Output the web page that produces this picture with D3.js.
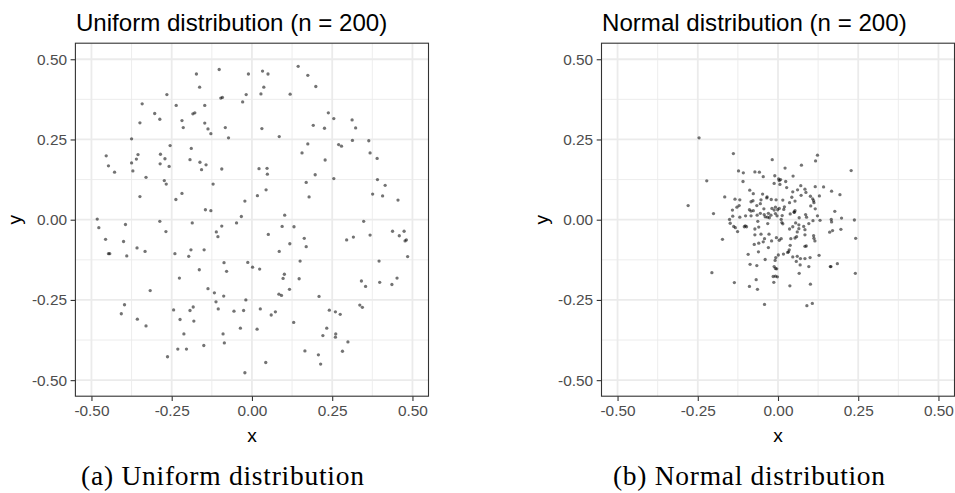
<!DOCTYPE html>
<html>
<head>
<meta charset="utf-8">
<script src="https://cdn.jsdelivr.net/npm/d3@7/dist/d3.min.js"></script>
<style>
  html, body { margin: 0; padding: 0; background: #fff; }
  svg { display: block; }
</style>
</head>
<body>
<svg id="chart" width="955" height="493"></svg>
<script>
// ---------------- data ----------------
const panelTitles = ["Uniform distribution (n = 200)", "Normal distribution (n = 200)"];
const captions = ["(a) Uniform distribution", "(b) Normal distribution"];
const tickValues = [-0.5, -0.25, 0, 0.25, 0.5];
const tickLabels = ["-0.50", "-0.25", "0.00", "0.25", "0.50"];
const minorValues = [-0.375, -0.125, 0.125, 0.375];

const uniformX = [
 -0.173,-0.102,-0.011,-0.163,-0.265,-0.097,-0.092,-0.018,-0.029,-0.342,-0.236,-0.147,-0.303,-0.184,-0.178,-0.287,-0.349,-0.218,-0.147,-0.214,-0.137,-0.083,-0.128,-0.375,-0.073,-0.255,-0.189,-0.454,-0.355,-0.285,-0.447,-0.360,-0.271,-0.375,-0.286,-0.193,-0.162,-0.143,-0.428,-0.371,-0.258,-0.157,-0.094,-0.330,-0.273,-0.267,-0.121,-0.349,-0.218,-0.237,-0.022,-0.145,-0.128,-0.033,-0.482,
 0.033,0.050,0.144,0.174,0.037,0.199,0.028,0.119,0.238,0.255,0.312,0.031,0.191,0.226,0.323,0.085,0.174,0.270,0.279,0.313,0.364,0.156,0.368,0.390,0.228,0.022,0.047,0.048,0.197,0.255,0.391,0.169,0.415,0.044,0.017,0.178,0.376,0.407,0.455,0.102,
 -0.477,-0.394,-0.287,-0.456,-0.400,-0.268,-0.186,-0.094,-0.111,-0.106,-0.048,-0.447,-0.443,-0.390,-0.358,-0.333,-0.240,-0.197,-0.190,-0.149,-0.164,-0.087,-0.079,-0.013,-0.226,-0.317,-0.137,-0.117,-0.088,-0.112,-0.397,-0.019,-0.407,-0.357,-0.330,-0.244,-0.224,-0.193,-0.183,-0.181,-0.105,-0.056,-0.026,-0.036,-0.212,-0.090,-0.150,-0.086,-0.231,-0.204,-0.263,-0.022,
 0.348,0.094,0.131,0.051,0.118,0.163,0.169,0.085,0.295,0.316,0.368,0.438,0.459,0.474,0.477,0.481,0.485,0.396,0.150,0.002,0.024,0.101,0.097,0.147,0.117,0.084,0.092,0.209,0.341,0.354,0.398,0.436,0.452,0.336,0.344,0.241,0.260,0.275,0.026,0.060,0.073,0.130,0.233,0.221,0.261,0.260,0.299,0.165,0.207,0.282,0.214,0.043,0.016
];
const uniformY = [
 0.454,0.468,0.454,0.413,0.390,0.379,0.381,0.390,0.367,0.361,0.356,0.356,0.331,0.330,0.333,0.313,0.302,0.309,0.301,0.287,0.283,0.287,0.268,0.252,0.255,0.231,0.222,0.199,0.203,0.204,0.168,0.189,0.190,0.177,0.174,0.187,0.179,0.171,0.148,0.152,0.166,0.156,0.158,0.132,0.122,0.111,0.111,0.072,0.082,0.063,0.058,0.031,0.028,0.010,0.002,
 0.463,0.454,0.478,0.450,0.413,0.415,0.392,0.391,0.333,0.315,0.311,0.284,0.294,0.285,0.286,0.259,0.236,0.234,0.229,0.247,0.246,0.208,0.208,0.191,0.186,0.159,0.160,0.142,0.140,0.128,0.125,0.116,0.107,0.093,0.075,0.071,0.080,0.074,0.061,0.014,
 -0.025,-0.015,-0.005,-0.061,-0.068,-0.037,-0.010,-0.020,-0.038,-0.053,-0.010,-0.106,-0.106,-0.113,-0.088,-0.099,-0.106,-0.114,-0.094,-0.094,-0.156,-0.134,-0.161,-0.133,-0.182,-0.221,-0.215,-0.228,-0.238,-0.256,-0.265,-0.250,-0.293,-0.310,-0.331,-0.281,-0.311,-0.283,-0.272,-0.316,-0.278,-0.285,-0.283,-0.338,-0.356,-0.356,-0.392,-0.384,-0.403,-0.403,-0.427,-0.477,
 -0.005,-0.021,-0.022,-0.046,-0.075,-0.058,-0.084,-0.099,-0.063,-0.054,-0.048,-0.036,-0.050,-0.036,-0.066,-0.063,-0.115,-0.129,-0.129,-0.148,-0.154,-0.170,-0.183,-0.184,-0.217,-0.232,-0.236,-0.239,-0.191,-0.208,-0.195,-0.202,-0.182,-0.266,-0.273,-0.282,-0.287,-0.295,-0.278,-0.297,-0.287,-0.320,-0.338,-0.361,-0.356,-0.366,-0.381,-0.409,-0.421,-0.410,-0.450,-0.445,-0.341
];

const normalX = [
 -0.246,-0.139,0.123,-0.018,0.117,0.073,0.022,0.228,-0.123,-0.108,
 -0.072,-0.058,-0.046,-0.010,0.047,0.002,0.008,0.004,0.024,-0.222,
 -0.109,-0.012,0.006,0.027,0.046,0.061,0.071,0.084,0.087,0.116,
 0.142,0.167,0.193,-0.088,-0.077,-0.048,-0.034,-0.035,-0.021,-0.006,
 0.015,0.036,0.053,0.043,0.072,0.101,0.108,0.129,-0.166,-0.134,
 -0.119,-0.121,-0.128,-0.084,-0.078,-0.055,-0.066,-0.053,-0.044,-0.019,
 -0.008,-0.012,-0.001,0.004,0.018,0.053,0.050,0.111,0.112,0.102,
 0.116,0.177,-0.142,-0.089,-0.084,-0.077,-0.201,-0.151,-0.141,-0.119,
 -0.101,-0.084,-0.065,-0.055,-0.043,-0.040,-0.033,-0.027,-0.022,-0.008,
 -0.003,0.013,0.010,0.038,0.051,0.066,0.086,0.089,0.096,0.109,
 0.123,0.131,0.166,0.167,0.198,0.238,-0.149,-0.063,-0.032,-0.138,
 -0.133,-0.126,-0.105,-0.102,-0.098,-0.072,-0.060,0.012,0.015,0.036,
 0.046,0.065,0.080,0.084,0.065,0.060,0.084,0.111,0.161,0.170,
 0.196,-0.173,-0.072,-0.053,-0.042,-0.028,-0.005,0.010,0.040,0.053,
 0.058,0.112,-0.046,-0.020,-0.060,-0.074,-0.030,0.004,0.038,0.035,
 0.033,0.084,0.088,0.242,0.115,-0.093,-0.061,0.001,0.017,0.030,
 0.046,0.060,0.057,0.070,0.084,0.100,0.128,-0.040,-0.007,-0.009,
 -0.087,-0.066,0.069,0.096,0.163,0.165,0.185,-0.012,-0.008,-0.004,
 -0.015,-0.008,-0.002,-0.206,-0.068,0.066,0.241,-0.136,-0.089,-0.064,
 -0.013,0.037,0.101,-0.042,0.090,0.107,-0.280,-0.030,0.055,0.020
];
const normalY = [
 0.255,0.206,0.201,0.187,0.183,0.170,0.161,0.153,0.152,0.146,
 0.149,0.148,0.134,0.137,0.136,0.127,0.125,0.122,0.119,0.121,
 0.119,0.113,0.110,0.100,0.087,0.093,0.106,0.095,0.085,0.103,
 0.102,0.089,0.078,0.092,0.081,0.080,0.071,0.068,0.063,0.062,
 0.061,0.053,0.058,0.070,0.076,0.073,0.065,0.074,0.071,0.064,
 0.062,0.044,0.039,0.056,0.059,0.050,0.044,0.062,0.034,0.035,
 0.039,0.030,0.031,0.035,0.032,0.028,0.024,0.059,0.053,0.043,
 0.034,0.026,0.030,0.031,0.027,0.028,0.019,0.001,0.011,0.008,
 0.012,0.012,0.014,0.020,0.016,0.009,0.008,0.006,0.014,0.019,
 0.012,0.013,0.001,0.018,0.023,0.006,0.016,0.008,-0.012,-0.003,
 0.012,-0.002,0.001,-0.007,0.005,-0.001,-0.011,-0.005,-0.012,-0.021,
 -0.025,-0.037,-0.022,-0.019,-0.022,-0.029,-0.023,-0.009,-0.013,-0.029,
 -0.022,-0.016,-0.021,-0.031,-0.028,-0.038,-0.047,-0.050,-0.039,-0.034,
 -0.030,-0.061,-0.047,-0.045,-0.059,-0.045,-0.056,-0.059,-0.059,-0.057,
 -0.053,-0.058,-0.069,-0.066,-0.073,-0.077,-0.087,-0.064,-0.080,-0.094,
 -0.100,-0.083,-0.082,-0.058,-0.066,-0.108,-0.100,-0.110,-0.107,-0.102,
 -0.116,-0.114,-0.130,-0.121,-0.121,-0.118,-0.111,-0.124,-0.118,-0.127,
 -0.139,-0.143,-0.141,-0.146,-0.146,-0.146,-0.137,-0.146,-0.152,-0.153,
 -0.177,-0.176,-0.178,-0.165,-0.187,-0.167,-0.167,-0.196,-0.208,-0.217,
 -0.195,-0.206,-0.201,-0.264,-0.268,-0.261,0.044,0.020,-0.010,0.040
];

// ---------------- drawing ----------------
const svg = d3.select("#chart");
svg.append("rect").attr("width", 955).attr("height", 493).attr("fill", "#fff");

const domain = [-0.55, 0.55];
const panels = [
  { left: 75.4, right: 428.5, xs: uniformX, ys: uniformY, title: panelTitles[0], caption: captions[0], capX: 222.5, capW: 283 },
  { left: 601.5, right: 954.5, xs: normalX, ys: normalY, title: panelTitles[1], caption: captions[1], capX: 749, capW: 272 }
];
const plotTop = 43.2, plotBottom = 396.2;
const fontSans = "'Liberation Sans', Arial, sans-serif";

panels.forEach(p => {
  const x = d3.scaleLinear().domain(domain).range([p.left, p.right]);
  const y = d3.scaleLinear().domain(domain).range([plotBottom, plotTop]);
  const g = svg.append("g");

  // minor grid
  g.selectAll(".vminor").data(minorValues).join("line").attr("class", "vminor")
    .attr("x1", d => x(d)).attr("x2", d => x(d)).attr("y1", plotTop).attr("y2", plotBottom)
    .attr("stroke", "#EBEBEB").attr("stroke-width", 0.9);
  g.selectAll(".hminor").data(minorValues).join("line").attr("class", "hminor")
    .attr("y1", d => y(d)).attr("y2", d => y(d)).attr("x1", p.left).attr("x2", p.right)
    .attr("stroke", "#EBEBEB").attr("stroke-width", 0.9);
  // major grid
  g.selectAll(".vmajor").data(tickValues).join("line").attr("class", "vmajor")
    .attr("x1", d => x(d)).attr("x2", d => x(d)).attr("y1", plotTop).attr("y2", plotBottom)
    .attr("stroke", "#EBEBEB").attr("stroke-width", 1.8);
  g.selectAll(".hmajor").data(tickValues).join("line").attr("class", "hmajor")
    .attr("y1", d => y(d)).attr("y2", d => y(d)).attr("x1", p.left).attr("x2", p.right)
    .attr("stroke", "#EBEBEB").attr("stroke-width", 1.8);

  // points
  const pts = p.xs.map((v, i) => [v, p.ys[i]]);
  g.selectAll("circle.pt").data(pts).join("circle").attr("class", "pt")
    .attr("cx", d => x(d[0])).attr("cy", d => y(d[1]))
    .attr("r", 1.65).attr("fill", "#000").attr("fill-opacity", 0.55);

  // border
  g.append("rect").attr("x", p.left).attr("y", plotTop)
    .attr("width", p.right - p.left).attr("height", plotBottom - plotTop)
    .attr("fill", "none").attr("stroke", "#333333").attr("stroke-width", 1.1);

  // axes
  const fmt = (d) => tickLabels[tickValues.indexOf(d)];
  const xAxis = d3.axisBottom(x).tickValues(tickValues).tickFormat(fmt).tickSize(4.8).tickPadding(3.6);
  const yAxis = d3.axisLeft(y).tickValues(tickValues).tickFormat(fmt).tickSize(4.8).tickPadding(3.6);
  const gx = g.append("g").attr("transform", `translate(0,${plotBottom})`).call(xAxis);
  const gy = g.append("g").attr("transform", `translate(${p.left},0)`).call(yAxis);
  [gx, gy].forEach(a => {
    a.select(".domain").remove();
    a.selectAll(".tick line").attr("stroke", "#333333").attr("stroke-width", 1.1);
    a.selectAll(".tick text").attr("fill", "#4D4D4D").style("font-family", fontSans).style("font-size", "15.4px");
  });
  gx.selectAll(".tick text").attr("dy", "0.75em");

  // axis titles
  g.append("text").attr("x", (p.left + p.right) / 2).attr("y", 442)
    .attr("text-anchor", "middle").style("font-family", fontSans).style("font-size", "19.2px")
    .attr("fill", "#000").text("x");
  g.append("text").attr("transform", `translate(${p.left - 54},${(plotTop + plotBottom) / 2}) rotate(-90)`)
    .attr("text-anchor", "middle").style("font-family", fontSans).style("font-size", "19.2px")
    .attr("fill", "#000").text("y");

  // title
  g.append("text").attr("x", p.left + 0.5).attr("y", 30.5)
    .style("font-family", fontSans).style("font-size", "24.1px").attr("fill", "#000").text(p.title);

  // caption
  g.append("text").attr("x", p.capX).attr("y", 485)
    .attr("text-anchor", "middle").style("font-family", "'Liberation Serif', 'Times New Roman', serif")
    .style("font-size", "27.5px").attr("fill", "#000")
    .attr("textLength", p.capW).attr("lengthAdjust", "spacing")
    .text(p.caption);
});
</script>
</body>
</html>
